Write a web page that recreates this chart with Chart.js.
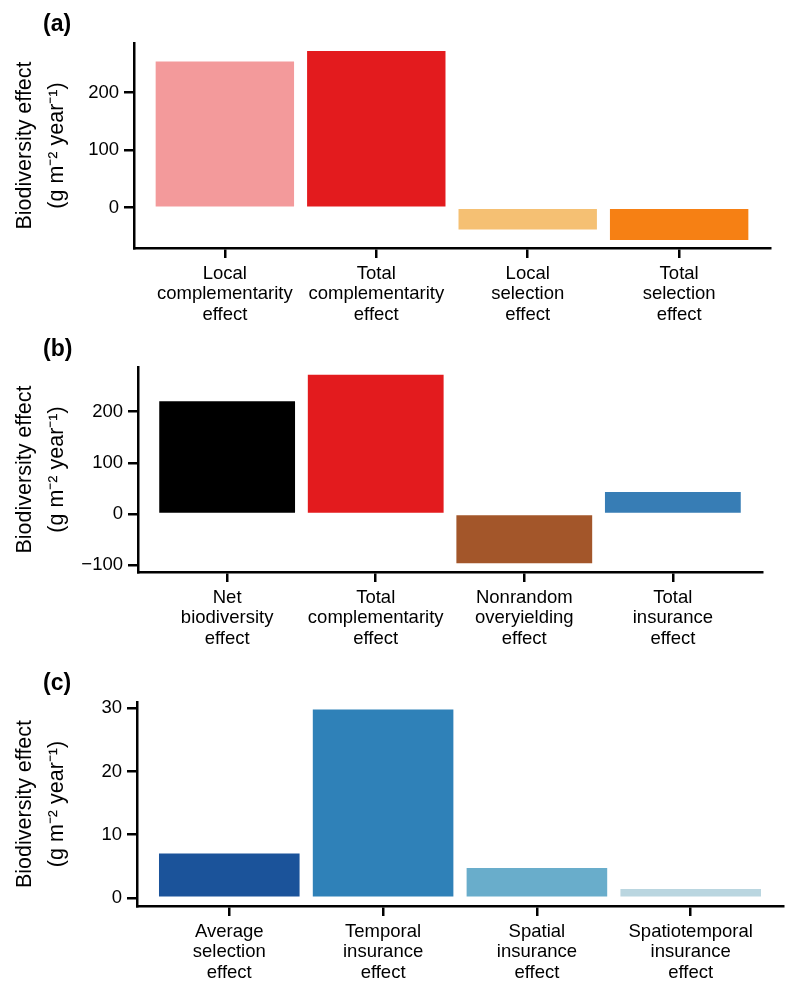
<!DOCTYPE html>
<html>
<head>
<meta charset="utf-8">
<script src="https://cdn.jsdelivr.net/npm/chart.js@4.4.1/dist/chart.umd.min.js"></script>
<style>
  body { margin: 0; background: #fff; }
  .panel { position: relative; width: 800px; }
  .panel canvas { display: block; }
  .tag { position: absolute; left: 43px; font: bold 23px 'Liberation Sans', Arial, sans-serif; line-height: 1; color: #000; }
</style>
</head>
<body>
<div class="panel"><div class="tag" style="top:12px">(a)</div><canvas id="chartA" width="800" height="330"></canvas></div>
<div class="panel"><div class="tag" style="top:7px">(b)</div><canvas id="chartB" width="800" height="330"></canvas></div>
<div class="panel"><div class="tag" style="top:11px">(c)</div><canvas id="chartC" width="800" height="336"></canvas></div>
<script>
// panel (a)
const labelsA = [['Local', 'complementarity', 'effect'], ['Total', 'complementarity', 'effect'], ['Local', 'selection', 'effect'], ['Total', 'selection', 'effect']];
const valuesA = [254, 272, -38, -56];
const ticksA = [0, 100, 200];

// panel (b)
const labelsB = [['Net', 'biodiversity', 'effect'], ['Total', 'complementarity', 'effect'], ['Nonrandom', 'overyielding', 'effect'], ['Total', 'insurance', 'effect']];
const valuesB = [220, 272, -96, 43];
const ticksB = [-100, 0, 100, 200];

// panel (c)
const labelsC = [['Average', 'selection', 'effect'], ['Temporal', 'insurance', 'effect'], ['Spatial', 'insurance', 'effect'], ['Spatiotemporal', 'insurance', 'effect']];
const valuesC = [7.0, 29.8, 4.7, 1.4];
const ticksC = [0, 10, 20, 30];

const yTitle = ['Biodiversity effect', '(g m\u207B\u00B2 year\u207B\u00B9)'];

const colorsA = ['#f39a9b', '#e31b1e', '#f5c073', '#f68014'];
const colorsB = ['#000000', '#e31b1e', '#a3562a', '#377db5'];
const colorsC = ['#1b539a', '#2f81b8', '#69adcb', '#bad6e0'];

const family = "'Liberation Sans', Arial, Helvetica, sans-serif";

function makePanel(id, labels, values, colors, yTicks, yMin, yMax, box) {
  return new Chart(document.getElementById(id), {
    type: 'bar',
    data: {
      datasets: [{
        data: values.map((v, i) => ({ x: i + 1, y: v })),
        backgroundColor: colors,
        borderWidth: 0,
        barPercentage: 1,
        categoryPercentage: 0.914
      }]
    },
    options: {
      responsive: false,
      animation: false,
      layout: { padding: { top: box.top, right: box.right, left: 0, bottom: 0 } },
      plugins: { legend: { display: false }, tooltip: { enabled: false } },
      scales: {
        x: {
          type: 'linear',
          min: 0.4,
          max: 4.6,
          offset: false,
          afterBuildTicks: s => { s.ticks = labels.map((_, i) => ({ value: i + 1 })); },
          afterFit: s => { s.height = box.xHeight; },
          grid: { offset: false, drawOnChartArea: false, color: '#000', lineWidth: 2.5, tickLength: 10 },
          border: { color: '#000', width: 2.5 },
          ticks: {
            callback: v => labels[v - 1],
            autoSkip: false,
            maxRotation: 0,
            padding: 5,
            color: '#000',
            font: { family, size: 18.5, lineHeight: 1.125 }
          }
        },
        y: {
          min: yMin,
          max: yMax,
          afterBuildTicks: s => { s.ticks = yTicks.map(v => ({ value: v })); },
          afterFit: s => { s.width = box.yWidth; },
          grid: { drawOnChartArea: false, color: '#000', lineWidth: 2.5, tickLength: 10 },
          border: { color: '#000', width: 2.5 },
          ticks: {
            callback: v => String(v).replace('-', '\u2212'),
            padding: 5,
            color: '#000',
            font: { family, size: 18.5 }
          },
          title: {
            display: true,
            text: yTitle,
            color: '#000',
            font: { family, size: 21.5, lineHeight: 1.5 },
            padding: { top: 9, bottom: 0 }
          }
        }
      }
    }
  });
}

makePanel('chartA', labelsA, valuesA, colorsA, ticksA, -70, 286, { top: 43, right: 30, yWidth: 134, xHeight: 82 });
makePanel('chartB', labelsB, valuesB, colorsB, ticksB, -113, 287, { top: 37, right: 38, yWidth: 138, xHeight: 88 });
makePanel('chartC', labelsC, valuesC, colorsC, ticksC, -1.3, 31, { top: 42, right: 17, yWidth: 137, xHeight: 90 });
</script>
</body>
</html>
